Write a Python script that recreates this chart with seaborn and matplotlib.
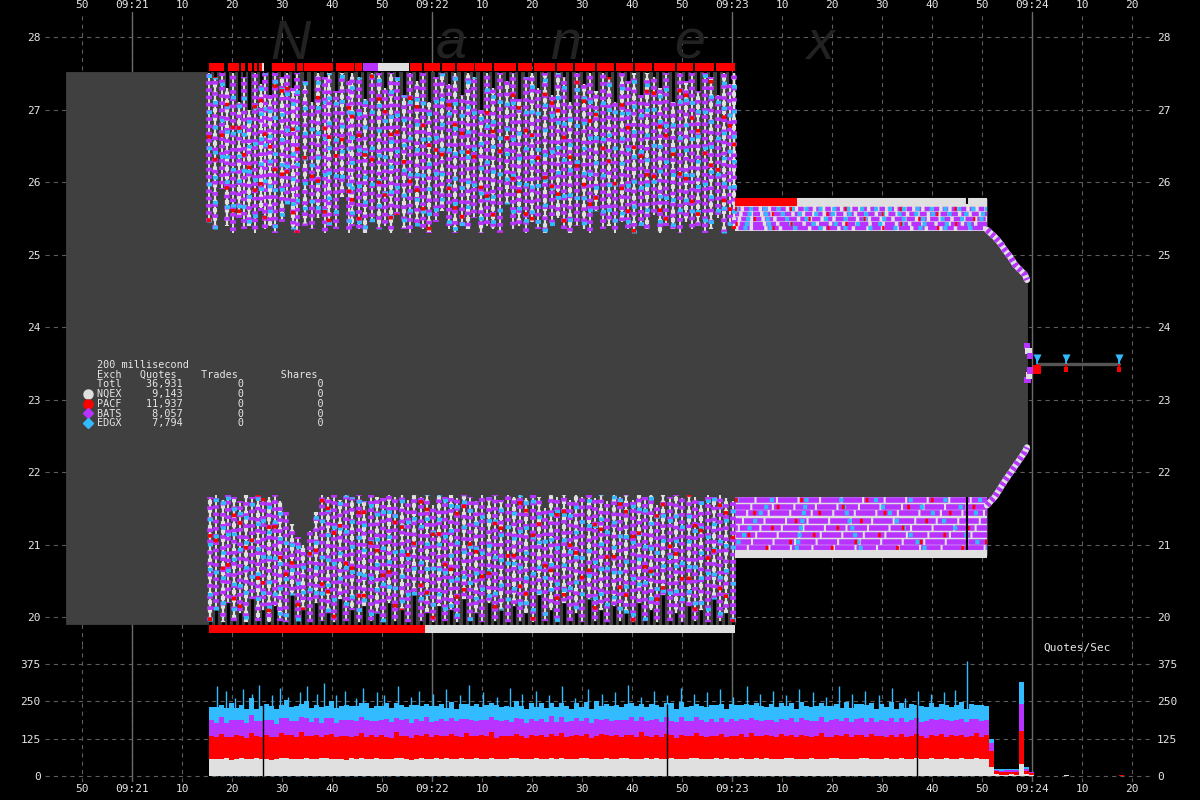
import numpy as np
import pandas as pd
import seaborn as sns
import matplotlib.pyplot as plt

# time is seconds after 09:21:00
EXCH = ['NQEX', 'PACF', 'BATS', 'EDGX']
COLORS = {'NQEX': '#e0e0e0', 'PACF': '#ff0000', 'BATS': '#b833ff', 'EDGX': '#33bbff'}
QUOTES = [9143, 11937, 8057, 7794]
TRADES = [0, 0, 0, 0]
SHARES = [0, 0, 0, 0]

TIME_TICKS = [-10, 0, 10, 20, 30, 40, 50, 60, 70, 80, 90, 100, 110, 120,
              130, 140, 150, 160, 170, 180, 190, 200]
TIME_LABELS = ['50', '09:21', '10', '20', '30', '40', '50', '09:22', '10', '20', '30',
               '40', '50', '09:23', '10', '20', '30', '40', '50', '09:24', '10', '20']
MINUTES = [0, 60, 120, 180]
PRICE_TICKS = [20, 21, 22, 23, 24, 25, 26, 27, 28]
QPS_TICKS = [0, 125, 250, 375]

# NBBO spread (gray area)
SPREAD_T = [-13.2, 120.6, 120.6, 171.0]
SPREAD_LO = [19.90, 19.90, 20.85, 20.85]
SPREAD_HI = [27.52, 27.52, 25.76, 25.76]

# quote-stuffing columns, ask side
ASK_T = [15.4, 16.6, 17.9, 19.0, 20.1, 21.4, 22.3, 23.3, 24.6, 25.7,
         26.6, 27.5, 28.6, 30.0, 31.0, 32.1, 33.0, 34.6, 35.9, 37.2,
         38.5, 39.4, 40.7, 41.9, 43.3, 43.9, 45.3, 46.6, 47.9, 49.3,
         50.5, 51.8, 53.0, 54.4, 55.6, 56.9, 58.1, 59.4, 60.8, 62.0,
         63.3, 64.5, 65.9, 67.2, 68.4, 69.7, 71.0, 72.2, 73.6, 74.9,
         76.1, 77.4, 78.7, 80.0, 81.2, 82.5, 83.9, 85.1, 86.4, 87.6,
         89.0, 90.3, 91.5, 92.8, 94.1, 95.4, 96.6, 97.9, 99.2, 100.4,
         101.8, 103.0, 104.3, 105.6, 106.8, 108.1, 109.5, 110.7, 112.0, 113.2,
         114.6, 115.8, 117.1, 118.4, 119.6, 120.4]
ASK_HI = [27.5, 27.45, 27.5, 27.3, 27.5, 27.1, 27.45, 27.0, 27.5, 27.35,
          27.5, 27.2, 27.5, 27.45, 27.5, 27.3, 27.5, 27.4, 27.1, 27.5,
          27.45, 27.5, 27.25, 27.5, 27.4, 27.5, 27.45, 27.15, 27.5, 27.5,
          27.3, 27.5, 27.45, 27.2, 27.5, 27.4, 27.5, 27.1, 27.45, 27.5,
          27.35, 27.5, 27.2, 27.5, 27.45, 27.0, 27.5, 27.3, 27.5, 27.4,
          27.5, 27.15, 27.45, 27.5, 27.3, 27.5, 27.2, 27.5, 27.45, 27.1,
          27.5, 27.35, 27.5, 27.25, 27.5, 27.45, 27.1, 27.5, 27.4, 27.5,
          27.2, 27.5, 27.45, 27.3, 27.5, 27.1, 27.5, 27.4, 27.5, 27.25,
          27.5, 27.45, 27.2, 27.5, 27.35, 27.5]
ASK_LO = [25.45, 25.35, 25.9, 25.4, 25.3, 25.5, 25.35, 25.4, 25.3, 25.6,
          25.35, 25.4, 25.3, 25.45, 25.7, 25.35, 25.3, 25.4, 25.35, 25.5,
          25.3, 25.4, 25.35, 25.8, 25.3, 25.4, 25.35, 25.3, 25.45, 25.35,
          25.4, 25.3, 25.55, 25.35, 25.3, 25.4, 25.35, 25.3, 25.45, 25.6,
          25.35, 25.3, 25.4, 25.35, 25.5, 25.3, 25.4, 25.35, 25.3, 25.7,
          25.35, 25.4, 25.3, 25.45, 25.35, 25.3, 25.4, 25.5, 25.35, 25.3,
          25.4, 25.35, 25.3, 25.6, 25.35, 25.4, 25.3, 25.45, 25.35, 25.3,
          25.4, 25.35, 25.55, 25.3, 25.4, 25.35, 25.3, 25.45, 25.35, 25.4,
          25.3, 25.35, 25.5, 25.3, 25.4, 25.35]

# bid side
BID_T = [15.5, 16.8, 18.1, 19.2, 20.4, 21.6, 22.7, 23.9, 25.1, 26.2,
         27.3, 28.5, 29.6, 30.8, 31.9, 33.1, 34.2, 35.5, 36.7, 37.9,
         39.2, 40.4, 41.6, 42.7, 44.0, 45.3, 46.4, 47.7, 48.9, 50.2,
         51.4, 52.6, 53.9, 55.1, 56.4, 57.7, 58.9, 60.1, 61.3, 62.6,
         63.8, 65.0, 66.3, 67.6, 68.8, 70.0, 71.3, 72.6, 73.8, 75.1,
         76.3, 77.5, 78.8, 80.1, 81.3, 82.5, 83.8, 85.0, 86.3, 87.6,
         88.8, 90.0, 91.3, 92.5, 93.7, 95.0, 96.3, 97.5, 98.8, 100.1,
         101.3, 102.5, 103.8, 105.0, 106.2, 107.5, 108.8, 110.0, 111.3, 112.5,
         113.8, 115.1, 116.3, 117.5, 118.8, 120.1]
BID_HI = [21.66, 21.68, 21.62, 21.68, 21.66, 21.6, 21.68, 21.66, 21.68, 21.64,
          21.66, 21.68, 21.6, 21.45, 21.28, 21.1, 21.0, 21.18, 21.45, 21.68,
          21.66, 21.68, 21.62, 21.68, 21.66, 21.68, 21.6, 21.68, 21.66, 21.64,
          21.68, 21.66, 21.68, 21.62, 21.68, 21.66, 21.68, 21.55, 21.68, 21.66,
          21.68, 21.64, 21.68, 21.66, 21.6, 21.68, 21.66, 21.68, 21.62, 21.68,
          21.66, 21.68, 21.64, 21.68, 21.66, 21.5, 21.68, 21.66, 21.68, 21.62,
          21.68, 21.66, 21.68, 21.64, 21.68, 21.6, 21.68, 21.66, 21.68, 21.62,
          21.68, 21.66, 21.68, 21.55, 21.68, 21.66, 21.68, 21.64, 21.68, 21.66,
          21.6, 21.68, 21.66, 21.68, 21.64, 21.6]
BID_LO = [19.95, 20.1, 19.93, 20.2, 19.95, 20.05, 19.93, 20.25, 19.95, 20.1,
          19.93, 20.15, 19.95, 19.93, 20.3, 19.95, 20.1, 19.93, 20.2, 19.95,
          20.05, 19.93, 20.25, 19.95, 20.1, 19.93, 20.15, 19.95, 20.05, 19.93,
          20.2, 19.95, 20.1, 19.93, 20.3, 19.95, 20.05, 19.93, 20.15, 19.95,
          20.1, 19.93, 20.25, 19.95, 20.05, 19.93, 20.2, 19.95, 20.1, 19.93,
          20.15, 19.95, 20.05, 19.93, 20.3, 19.95, 20.1, 19.93, 20.2, 19.95,
          20.05, 19.93, 20.25, 19.95, 20.1, 19.93, 20.15, 19.95, 20.05, 19.93,
          20.2, 19.95, 20.1, 19.93, 20.3, 19.95, 20.05, 19.93, 20.15, 19.95,
          20.1, 19.93, 20.25, 19.95, 20.05, 19.93]

# outer quote bands (start, end, exchange)
ASK_BAND = [(15.3, 18.4, 'PACF'), (19.2, 21.3, 'PACF'), (21.7, 22.6, 'PACF'),
            (23.2, 24.0, 'PACF'), (24.3, 25.0, 'PACF'), (25.3, 25.9, 'PACF'),
            (26.0, 26.4, 'NQEX'), (28.0, 32.6, 'PACF'), (33.0, 34.2, 'PACF'),
            (34.4, 40.2, 'PACF'), (40.8, 44.4, 'PACF'), (44.6, 46.0, 'PACF'),
            (46.2, 49.2, 'BATS'), (49.2, 55.3, 'NQEX'), (55.5, 58.0, 'PACF'),
            (58.4, 61.5, 'PACF'), (61.9, 64.6, 'PACF'), (65.0, 68.3, 'PACF'),
            (68.6, 72.0, 'PACF'), (72.4, 76.8, 'PACF'), (77.2, 80.0, 'PACF'),
            (80.4, 84.6, 'PACF'), (85.0, 88.2, 'PACF'), (88.6, 92.6, 'PACF'),
            (93.0, 96.4, 'PACF'), (96.8, 100.2, 'PACF'), (100.6, 104.0, 'PACF'),
            (104.4, 108.6, 'PACF'), (109.0, 112.2, 'PACF'), (112.6, 116.4, 'PACF'),
            (116.8, 120.6, 'PACF'), (120.6, 133.0, 'PACF'), (133.0, 171.0, 'NQEX')]
ASK_BAND_PRICE = [27.585] * 31 + [25.725, 25.725]
BID_BAND = [(15.3, 58.6, 'PACF'), (58.6, 120.6, 'NQEX'), (120.6, 171.0, 'NQEX')]
BID_BAND_PRICE = [19.835, 19.835, 20.87]

# 09:23:00 - 09:23:51 stacked quote rows
ROWS_T = [120.6, 171.0]
ASK_ROWS = [25.63, 25.56, 25.49, 25.42, 25.36]
BID_ROWS = [21.61, 21.52, 21.43, 21.33, 21.23, 21.13, 21.03, 20.95]
ASK_ROW_BOX = [25.33, 25.74]
BID_ROW_BOX = [20.86, 21.66]
TRADE_T = [167.0]

# collapse at 09:23:51
TAPER_T = [171.0, 172.6, 173.6, 174.6, 175.6, 176.6, 177.6, 178.6, 179.0]
TAPER_ASK = [25.34, 25.24, 25.16, 25.06, 24.97, 24.86, 24.79, 24.72, 24.65]
TAPER_BID = [21.54, 21.66, 21.77, 21.88, 21.98, 22.08, 22.18, 22.28, 22.34]
CLOSE_T = [179.0, 179.3, 179.6, 179.1, 179.4, 179.7]
CLOSE_P = [23.74, 23.67, 23.6, 23.27, 23.33, 23.4]
CLOSE_EX = ['BATS', 'NQEX', 'BATS', 'BATS', 'NQEX', 'BATS']
FINAL_T = [181.0, 186.8, 197.4]
FINAL_ASK = [23.57, 23.57, 23.57]
FINAL_BID = [23.41, 23.41, 23.41]
FINAL_MID = 23.49

# quotes per second, one value per second from 09:21:15.4
QPS_START = 15.4
NQEX_QPS = [56, 58, 57, 59, 55, 58, 60, 57, 56, 59, 58, 57, 55, 58, 59, 60, 57, 58, 56, 59,
            58, 57, 59, 60, 56, 58, 57, 55, 59, 58, 60, 57, 58, 59, 56, 57, 58, 60, 59, 57,
            55, 58, 59, 57, 58, 60, 56, 59, 58, 57, 59, 58, 56, 60, 57, 58, 59, 57, 58, 56,
            59, 60, 58, 57, 56, 59, 58, 57, 60, 58, 59, 56, 57, 58, 60, 59, 57, 58, 56, 59,
            58, 57, 59, 60, 58, 56, 57, 59, 58, 60, 57, 58, 59, 56, 58, 57, 60, 59, 58, 57,
            56, 59, 58, 60, 57, 58, 59, 56, 58, 60, 57, 59, 58, 57, 56, 59, 60, 58, 57, 58,
            59, 56, 58, 57, 60, 59, 58, 57, 56, 58, 59, 60, 57, 58, 56, 59, 58, 57, 60, 58,
            57, 59, 58, 56, 60, 58, 57, 59, 58, 57, 59, 56, 58, 60, 57, 58,
            30, 6, 5, 5, 6, 5, 40, 6, 4]
PACF_QPS = [78, 72, 85, 70, 76, 81, 74, 69, 88, 75, 73, 80, 77, 71, 84, 76, 79, 72, 90, 74,
            75, 82, 70, 78, 86, 73, 77, 80, 71, 76, 83, 74, 79, 72, 81, 75, 70, 87, 76, 78,
            73, 80, 75, 84, 71, 77, 79, 74, 82, 76, 72, 85, 78, 73, 80, 76, 88, 71, 75, 79,
            74, 81, 77, 70, 83, 76, 78, 72, 80, 75, 86, 73, 77, 79, 74, 82, 71, 76, 84, 78,
            75, 80, 73, 77, 81, 74, 89, 76, 72, 79, 75, 83, 78, 71, 80, 76, 74, 85, 77, 73,
            79, 75, 82, 70, 78, 76, 81, 74, 87, 73, 77, 80, 75, 72, 84, 76, 79, 74, 81, 77,
            73, 78, 86, 75, 71, 80, 76, 83, 74, 79, 77, 72, 85, 76, 78, 73, 81, 75, 80, 74,
            77, 82, 76, 71, 79, 75, 84, 73, 78, 76, 80, 74, 77, 83, 75, 79,
            55, 10, 9, 10, 9, 10, 110, 12, 6]
BATS_QPS = [52, 48, 55, 50, 58, 47, 53, 51, 60, 49, 54, 50, 56, 46, 52, 57, 49, 53, 51, 62,
            48, 54, 50, 57, 52, 47, 55, 51, 59, 49, 53, 56, 48, 52, 50, 58, 54, 47, 51, 55,
            50, 53, 49, 57, 52, 48, 56, 51, 54, 50, 61, 47, 53, 52, 49, 55, 51, 58, 50, 54,
            48, 52, 57, 50, 53, 49, 55, 51, 60, 47, 54, 52, 50, 56, 49, 53, 51, 58, 48, 55,
            52, 50, 54, 49, 57, 53, 51, 48, 56, 52, 50, 55, 47, 53, 59, 51, 49, 54, 52, 50,
            57, 48, 53, 51, 55, 50, 52, 58, 49, 54, 51, 47, 56, 53, 50, 52, 55, 49, 57, 51,
            53, 50, 54, 48, 56, 52, 49, 55, 51, 53, 58, 50, 52, 47, 54, 51, 56, 49, 53, 50,
            55, 52, 48, 57, 51, 53, 50, 54, 49, 56, 52, 51, 55, 48, 53, 50,
            25, 5, 4, 5, 4, 6, 90, 5, 3]
EDGX_QPS = [45, 52, 40, 48, 55, 43, 50, 47, 58, 42, 49, 53, 46, 51, 44, 60, 47, 50, 43, 55,
            48, 45, 52, 41, 57, 49, 46, 53, 44, 50, 48, 56, 43, 51, 47, 54, 45, 49, 52, 42,
            59, 46, 50, 44, 53, 48, 51, 45, 55, 43, 49, 52, 47, 56, 44, 50, 46, 53, 48, 45,
            51, 57, 43, 49, 52, 46, 54, 48, 44, 50, 47, 55, 42, 51, 49, 53, 46, 58, 45, 50,
            48, 52, 44, 56, 47, 51, 43, 49, 54, 46, 50, 48, 61, 45, 52, 47, 53, 44, 49, 51,
            46, 55, 48, 43, 50, 53, 47, 52, 45, 57, 49, 44, 51, 48, 54, 46, 50, 42, 53, 49,
            47, 52, 45, 56, 48, 50, 44, 53, 47, 51, 46, 55, 49, 43, 52, 48, 54, 45, 50, 47,
            53, 46, 51, 48, 55, 44, 50, 52, 47, 49, 56, 45, 51, 48, 53, 46,
            15, 4, 5, 4, 5, 4, 75, 6, 2]
LATE_T = [186.8, 197.4]
LATE_EX = ['NQEX', 'PACF']
LATE_Q = [3, 3]
SPIKE_T = [17.0, 18.8, 20.5, 22.1, 24.0, 25.4, 27.9, 29.5, 31.2, 33.6,
           35.0, 36.9, 38.3, 40.7, 42.5, 44.8, 46.2, 48.9, 50.4, 53.1,
           55.7, 57.3, 60.2, 62.8, 65.5, 67.4, 70.1, 72.9, 75.6, 78.0,
           80.7, 83.3, 86.0, 88.6, 91.2, 93.9, 96.5, 99.1, 101.8, 104.4,
           107.0, 109.7, 112.3, 115.0, 117.6, 120.2, 122.9, 125.5, 128.1, 130.8,
           133.4, 136.1, 138.7, 141.3, 144.0, 146.6, 149.3, 151.9, 154.5, 157.2,
           159.8, 162.4, 164.6, 167.0]
SPIKE_Q = [300, 285, 260, 290, 275, 305, 270, 295, 265, 280,
           300, 275, 310, 270, 285, 260, 295, 280, 270, 300,
           265, 285, 275, 290, 270, 305, 280, 265, 295, 275,
           285, 270, 300, 260, 290, 275, 280, 305, 265, 285,
           270, 295, 275, 280, 290, 265, 300, 275, 285, 270,
           290, 280, 265, 300, 275, 285, 270, 295, 260, 285,
           275, 280, 288, 385]
QPS_GAP_T = [26.1, 107.0, 157.0]

BG = 'black'
FILL = '#404040'
GRID = '#5c5c5c'
TEXT = '#e6e6e6'
WHITE, RED, PURPLE, CYAN = COLORS['NQEX'], COLORS['PACF'], COLORS['BATS'], COLORS['EDGX']

sns.set_style('dark', {'axes.facecolor': BG, 'figure.facecolor': BG})
plt.rcParams['font.family'] = ['DejaVu Sans Mono']
plt.rcParams['lines.scale_dashes'] = False

fig = plt.figure(figsize=(12, 8), dpi=100)
ax = fig.add_axes([45 / 1200, 1 - 645 / 800, 1108 / 1200, 633 / 800])
bx = fig.add_axes([45 / 1200, 1 - 782 / 800, 1108 / 1200, 137 / 800])


def style_axis(a, yticks):
    a.set_facecolor(BG)
    for s in a.spines.values():
        s.set_visible(False)
    a.set_xlim(-17.4, 204.2)
    a.set_xticks(TIME_TICKS)
    a.set_xticklabels(TIME_LABELS)
    a.set_yticks(yticks)
    a.set_yticklabels([str(v) for v in yticks])
    a.tick_params(colors=TEXT, length=0, labelsize=8, labelleft=True, labelright=True)
    a.tick_params(axis='y', pad=3)
    a.tick_params(axis='x', pad=1.5)
    a.grid(True, color=GRID, lw=0.8, ls=(0, (3, 3)))
    for m in MINUTES:
        a.axvline(m, color='#6a6a6a', lw=1, zorder=0.6)
    a.set_axisbelow(True)
    a.set_xlabel('')
    a.set_ylabel('')


# ---- price panel ----
style_axis(ax, PRICE_TICKS)
ax.set_ylim(19.614, 28.345)
ax.tick_params(axis='x', labeltop=True, labelbottom=False)

ax.fill_between(SPREAD_T, SPREAD_LO, SPREAD_HI, color=FILL, lw=0.6, ec=FILL, zorder=1)
ax.fill_between(TAPER_T, TAPER_BID, TAPER_ASK, color=FILL, lw=0.6, ec=FILL, zorder=1)


def draw_columns(t, lo, hi, stub_lo, stub_hi, k):
    n = len(t)
    ax.vlines(t, stub_lo, stub_hi, color='black', lw=2.0, zorder=2)
    even = slice(k, None, 2)
    odd = slice(1 - k, None, 2)
    te, le, he = t[even], lo[even], hi[even]
    to, lo_, ho = t[odd], lo[odd], hi[odd]
    # purple-heavy columns
    ax.vlines(te, le, he, color=WHITE, lw=1.4, zorder=3)
    ax.vlines(te, le, he, color=PURPLE, lw=4.2, zorder=4,
              linestyles=[((i * 1.9) % 5, (2.6, 2.6)) for i in range(len(te))])
    ax.vlines(te, le, he, color=CYAN, lw=3.6, zorder=5,
              linestyles=[((i * 3.7) % 26, (2.6, 23.4)) for i in range(len(te))])
    # white-heavy columns
    ax.vlines(to, lo_, ho, color=WHITE, lw=1.6, zorder=3)
    ax.vlines(to, lo_, ho, color=WHITE, lw=3.0, zorder=4,
              linestyles=[((i * 2.3) % 6, (3.0, 3.0)) for i in range(len(to))])
    ax.vlines(to, lo_, ho, color=PURPLE, lw=4.2, zorder=5,
              linestyles=[((i * 4.1) % 8, (2.6, 5.4)) for i in range(len(to))])
    ax.vlines(to, lo_, ho, color=CYAN, lw=3.6, zorder=5,
              linestyles=[((i * 5.3) % 18, (2.6, 15.4)) for i in range(len(to))])
    ax.vlines(t, lo, hi, color=RED, lw=3.0, zorder=6,
              linestyles=[((i * 11.3) % 60, (2.6, 57.4)) for i in range(n)])


ask_t, ask_lo, ask_hi = np.array(ASK_T), np.array(ASK_LO), np.array(ASK_HI)
draw_columns(ask_t, ask_lo, ask_hi, ask_hi, np.full(len(ASK_T), 27.56), 0)
bid_t, bid_lo, bid_hi = np.array(BID_T), np.array(BID_LO), np.array(BID_HI)
draw_columns(bid_t, bid_lo, bid_hi, np.full(len(BID_T), 19.89), bid_lo, 1)

for (t0, t1, ex), p in zip(ASK_BAND, ASK_BAND_PRICE):
    ax.plot([t0, t1], [p, p], color=COLORS[ex], lw=5.8, solid_capstyle='butt', zorder=7)
for (t0, t1, ex), p in zip(BID_BAND, BID_BAND_PRICE):
    ax.plot([t0, t1], [p, p], color=COLORS[ex], lw=5.8, solid_capstyle='butt', zorder=7)

# stacked rows after 09:23:00
ax.fill_between(ROWS_T, ASK_ROW_BOX[0], ASK_ROW_BOX[1], color=WHITE, lw=0, zorder=2)
ax.fill_between(ROWS_T, BID_ROW_BOX[0], BID_ROW_BOX[1], color=WHITE, lw=0, zorder=2)
for i, p in enumerate(ASK_ROWS):
    ax.hlines(p, ROWS_T[0], ROWS_T[1], color=PURPLE, lw=3.2, zorder=3,
              linestyles=[(i * 2.0, (4.0 + i, 2.5))])
    ax.hlines(p, ROWS_T[0], ROWS_T[1], color=CYAN, lw=3.0, zorder=4,
              linestyles=[(i * 3.0, (3.0, 7.0 + 2 * i))])
    ax.hlines(p, ROWS_T[0], ROWS_T[1], color=RED, lw=3.0, zorder=5,
              linestyles=[(i * 13.0, (1.5, 38.0))])
for i, p in enumerate(BID_ROWS):
    ax.hlines(p, ROWS_T[0], ROWS_T[1], color=PURPLE, lw=4.0, zorder=3,
              linestyles=[(i * 3.0, (14.0, 1.5))])
    ax.hlines(p, ROWS_T[0], ROWS_T[1], color=CYAN, lw=3.2, zorder=4,
              linestyles=[(i * 7.0, (3.0, 22.0 + 3 * i))])
    ax.hlines(p, ROWS_T[0], ROWS_T[1], color=RED, lw=3.2, zorder=5,
              linestyles=[(i * 17.0, (2.0, 45.0))])
ax.vlines(TRADE_T, BID_ROW_BOX[0], BID_ROW_BOX[1], color='black', lw=1.5, zorder=6)
ax.vlines(TRADE_T, ASK_ROW_BOX[1] - 0.05, ASK_ROW_BOX[1] + 0.08, color='black', lw=1.5, zorder=8)

# collapse edges
for edge in (TAPER_ASK, TAPER_BID):
    ax.plot(TAPER_T, edge, color=WHITE, lw=4.5, zorder=3)
    ax.plot(TAPER_T, edge, color=PURPLE, lw=4.5, ls=(0, (2.5, 2.0)), zorder=4)
close = pd.DataFrame({'t': CLOSE_T, 'p': CLOSE_P, 'ex': CLOSE_EX})
sns.scatterplot(data=close, x='t', y='p', hue='ex', palette=COLORS, marker='s', s=22,
                linewidth=0, legend=False, ax=ax, zorder=5)

# last NBBO and quotes
ax.plot([FINAL_T[0], FINAL_T[-1]], [FINAL_MID, FINAL_MID], color='#555555', lw=2.4, zorder=3)
ax.vlines(FINAL_T, FINAL_MID, FINAL_ASK, color=CYAN, lw=1.2, zorder=4)
ax.vlines(FINAL_T, FINAL_BID, FINAL_MID, color=RED, lw=1.2, zorder=4)
final = pd.DataFrame({'t': FINAL_T, 'ask': FINAL_ASK, 'bid': FINAL_BID})
sns.scatterplot(data=final, x='t', y='ask', color=CYAN, marker='v', s=34, linewidth=0,
                ax=ax, zorder=5)
sns.scatterplot(data=final, x='t', y='bid', color=RED, marker='s', s=[40, 12, 12],
                linewidth=0, ax=ax, zorder=5)
ax.set_xlabel('')
ax.set_ylabel('')

# watermark
for letter, xt in zip('Nanex', [31.6, 63.8, 86.8, 111.6, 137.6]):
    ax.text(xt, 27.89, letter, color='#222222', fontsize=40, style='italic',
            family='Liberation Sans', ha='center', va='center', zorder=0.7)

# statistics block
lines = ['200 millisecond',
         f"{'Exch':<4}{'Quotes':>9}{'Trades':>10}{'Shares':>13}",
         f"{'Totl':<4}{sum(QUOTES):>10,}{sum(TRADES):>10}{sum(SHARES):>13}"]
for ex, q, tr, sh in zip(EXCH, QUOTES, TRADES, SHARES):
    lines.append(f"{ex:<4}{q:>10,}{tr:>10}{sh:>13}")
for i, line in enumerate(lines):
    fig.text(97 / 1200, 1 - (365 + 9.7 * i) / 800, line, color=TEXT, fontsize=7.3,
             va='center', ha='left')
for i, (ex, mk) in enumerate(zip(EXCH, ['o', 'o', 'D', 'D'])):
    ax.plot([88 / 1200], [1 - (394 + 9.7 * i) / 800], marker=mk, color=COLORS[ex],
            markersize=6.5 if mk == 'o' else 5.5, ls='none',
            transform=fig.transFigure, clip_on=False, zorder=10)

# ---- quotes per second panel ----
style_axis(bx, QPS_TICKS)
bx.set_ylim(-20, 438.6)
bx.tick_params(axis='x', labeltop=False, labelbottom=True)

rows = []
for ex, vals in zip(EXCH, [NQEX_QPS, PACF_QPS, BATS_QPS, EDGX_QPS]):
    for i, v in enumerate(vals):
        rows.append((QPS_START + i + 0.5, ex, v))
for t, ex, v in zip(LATE_T, LATE_EX, LATE_Q):
    rows.append((t, ex, v))
qps = pd.DataFrame(rows, columns=['t', 'exch', 'q'])

bx.vlines(SPIKE_T, 0, SPIKE_Q, color=CYAN, lw=1.0, zorder=0.9)
sns.histplot(data=qps, x='t', weights='q', hue='exch',
             hue_order=['EDGX', 'BATS', 'PACF', 'NQEX'], palette=COLORS,
             multiple='stack', binwidth=1, binrange=(QPS_START, QPS_START + 185),
             element='step', fill=True, alpha=1, linewidth=0, legend=False, ax=bx)
bx.vlines(QPS_GAP_T, 0, 240, color='black', lw=1.0, zorder=3)
bx.set_xlim(-17.4, 204.2)
bx.set_xlabel('')
bx.set_ylabel('')
fig.text(1043 / 1200, 1 - 648 / 800, 'Quotes/Sec', color=TEXT, fontsize=8, va='center')

fig.savefig('out.png', dpi=100, facecolor=BG)
